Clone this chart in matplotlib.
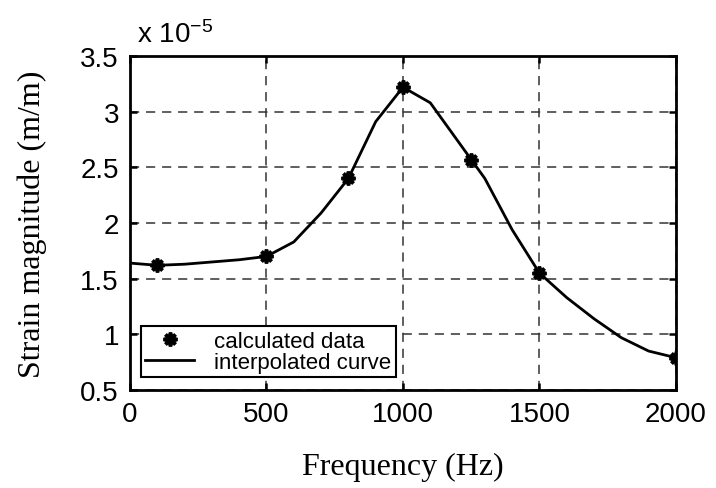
import numpy as np
import matplotlib.pyplot as plt
from matplotlib.ticker import FuncFormatter

# calculated points (strain in units of 1e-5 m/m)
calc_freq = [100, 500, 800, 1000, 1250, 1500, 2000]
calc_strain = [1.62, 1.70, 2.40, 3.22, 2.57, 1.55, 0.79]

# interpolated curve
curve_freq = [0, 100, 200, 300, 400, 500, 600, 700, 800, 900, 1000, 1100,
              1250, 1300, 1400, 1500, 1600, 1700, 1800, 1900, 2000]
curve_strain = [1.64, 1.62, 1.63, 1.65, 1.67, 1.70, 1.83, 2.09, 2.40, 2.91, 3.22, 3.08,
                2.57, 2.40, 1.94, 1.55, 1.33, 1.14, 0.97, 0.85, 0.79]

xticks = [0, 500, 1000, 1500, 2000]
yticks = [0.5, 1, 1.5, 2, 2.5, 3, 3.5]

sans = 'Liberation Sans'
serif = 'Liberation Serif'
plt.rcParams['mathtext.fontset'] = 'custom'
plt.rcParams['mathtext.rm'] = sans
plt.rcParams['mathtext.it'] = sans

fig = plt.figure(figsize=(7.16, 4.89), dpi=100)
ax = fig.add_axes([0.1816, 0.2004, 0.7624, 0.683])

ax.plot(calc_freq, calc_strain, linestyle='none', marker=(8, 2, 0),
        markersize=10, markeredgewidth=2.6, color='black', label='calculated data')
ax.plot(curve_freq, curve_strain, color='black', linewidth=2, label='interpolated curve')

ax.set_xlim(0, 2000)
ax.set_ylim(0.5, 3.5)
ax.set_xticks(xticks)
ax.set_yticks(yticks)
ax.yaxis.set_major_formatter(FuncFormatter(lambda v, p: '%g' % v))
ax.grid(True, color='#333333', linestyle=(0, (6, 4.5)), linewidth=1.1)
ax.tick_params(direction='in', top=True, right=True, length=5, width=1.8,
               labelsize=20, pad=8)
for lab in ax.get_xticklabels() + ax.get_yticklabels():
    lab.set_fontfamily(sans)
for s in ax.spines.values():
    s.set_linewidth(2)

ax.set_xlabel('Frequency (Hz)', fontfamily=serif, fontsize=23, labelpad=18)
ax.set_ylabel('Strain magnitude (m/m)', fontfamily=serif, fontsize=23, labelpad=24)
ax.text(0.012, 1.025, r'x 10$^{\mathrm{-5}}$', transform=ax.transAxes, fontfamily=sans,
        fontsize=20, ha='left', va='bottom')

leg = ax.legend(loc='lower left', bbox_to_anchor=(0.02, 0.039), prop={'family': sans, 'size': 16},
                frameon=True, fancybox=False, framealpha=1, edgecolor='black',
                borderpad=0.2, labelspacing=0.0, handlelength=2.2, handletextpad=0.9,
                borderaxespad=0)
leg.get_frame().set_linewidth(1.5)

fig.savefig('out.png', dpi=100)
